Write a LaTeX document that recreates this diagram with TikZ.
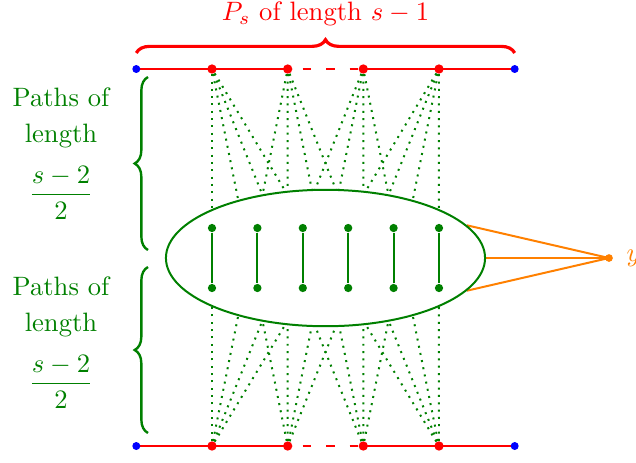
\documentclass[tikz,border=0pt]{standalone}
\usetikzlibrary{decorations.pathreplacing,shapes.geometric}
\pgfdeclarelayer{bg}
\pgfsetlayers{bg,main}
\definecolor{dgreen}{RGB}{0,128,0}
\definecolor{myorange}{RGB}{255,128,0}
\begin{document}
\begin{tikzpicture}[x=0.376pt,y=-0.376pt,
  reddot/.style={circle,fill=red,inner sep=0pt,minimum size=3.5pt},
  bluedot/.style={circle,fill=blue,inner sep=0pt,minimum size=3pt},
  gdot/.style={circle,fill=dgreen,inner sep=0pt,minimum size=3.1pt},
  odot/.style={circle,fill=myorange,inner sep=0pt,minimum size=2.9pt},
  pathline/.style={red,line width=0.75pt},
  pathdash/.style={red,line width=0.75pt,dash pattern=on 3.2pt off 5.64pt,dash phase=3.2pt},
  gpath/.style={dgreen,line width=0.75pt,dotted},
  gedge/.style={dgreen,line width=0.8pt},
  oline/.style={myorange,line width=0.75pt},
  rbrace/.style={red,line width=1.2pt,decorate,decoration={brace,amplitude=5pt}},
  gbrace/.style={dgreen,line width=0.9pt,decorate,decoration={brace,amplitude=5pt}},
  glabel/.style={text=dgreen,align=center,inner sep=0pt}]
\useasboundingbox (0,0) rectangle (636,462);

% top path
\node[bluedot] (L0) at (136.3,69) {};
\node[reddot] (T1) at (212,69) {};
\node[reddot] (T2) at (287.7,69) {};
\node[reddot] (T3) at (363.3,69) {};
\node[reddot] (T4) at (439,69) {};
\node[bluedot] (L5) at (514.7,69) {};
% bottom path
\node[bluedot] (B0) at (136.3,446) {};
\node[reddot] (S1) at (212,446) {};
\node[reddot] (S2) at (287.7,446) {};
\node[reddot] (S3) at (363.3,446) {};
\node[reddot] (S4) at (439,446) {};
\node[bluedot] (B5) at (514.7,446) {};

% ellipse
\node[ellipse,draw=dgreen,fill=white,line width=0.75pt,inner sep=0pt,
      minimum width=120pt,minimum height=51.3pt] (E) at (325.5,258) {};

% centre points
\foreach \k in {0,...,6} {
  \coordinate (m\k) at ({212+37.83*\k},258);
}

% matching
\foreach \i/\x in {1/212,2/257.4,3/302.8,4/348.2,5/393.6,6/439} {
  \node[gdot] (u\i) at (\x,228) {};
  \node[gdot] (v\i) at (\x,288) {};
  \draw[gedge] (u\i) -- (v\i);
}

% vertex y
\node[odot] (y) at (609,258) {};
\node[text=myorange,anchor=west,inner sep=0pt] (ylab) at (626,258) {$y$};

\begin{pgfonlayer}{bg}
  \draw[pathline] (L0.center) -- (T1.center) -- (T2.center);
  \draw[pathdash] (T2.center) -- (T3.center);
  \draw[pathline] (T3.center) -- (T4.center) -- (L5.center);
  \draw[pathline] (B0.center) -- (S1.center) -- (S2.center);
  \draw[pathdash] (S2.center) -- (S3.center);
  \draw[pathline] (S3.center) -- (S4.center) -- (B5.center);
  \foreach \k in {0,1,2,3} { \draw[gpath] (T1) -- (m\k); \draw[gpath] (S1) -- (m\k); }
  \foreach \k in {1,2,3,4} { \draw[gpath] (T2) -- (m\k); \draw[gpath] (S2) -- (m\k); }
  \foreach \k in {2,3,4,5} { \draw[gpath] (T3) -- (m\k); \draw[gpath] (S3) -- (m\k); }
  \foreach \k in {3,4,5,6} { \draw[gpath] (T4) -- (m\k); \draw[gpath] (S4) -- (m\k); }
  \draw[oline] (y.center) -- (E.13);
  \draw[oline] (y.center) -- (E.east);
  \draw[oline] (y.center) -- (E.-13);
\end{pgfonlayer}

% braces
\coordinate (rb1) at (136.3,53);
\coordinate (rb2) at (514.7,53);
\draw[rbrace] (rb1) -- (rb2);
\node[text=red,anchor=base] (title) at (325.5,20.5) {$P_s$ of length $s-1$};

\coordinate (gb1) at (148,250);
\coordinate (gb2) at (148,77);
\coordinate (gb3) at (148,433);
\coordinate (gb4) at (148,267);
\draw[gbrace] (gb1) -- (gb2);
\draw[gbrace] (gb3) -- (gb4);

\node[glabel] (lab1) at (61,154) {Paths of\\[1.4pt] length\\[5.9pt] $\displaystyle\frac{s-2}{2}$};
\node[glabel] (lab2) at (61,343) {Paths of\\[1.4pt] length\\[5.9pt] $\displaystyle\frac{s-2}{2}$};
\end{tikzpicture}
\end{document}
